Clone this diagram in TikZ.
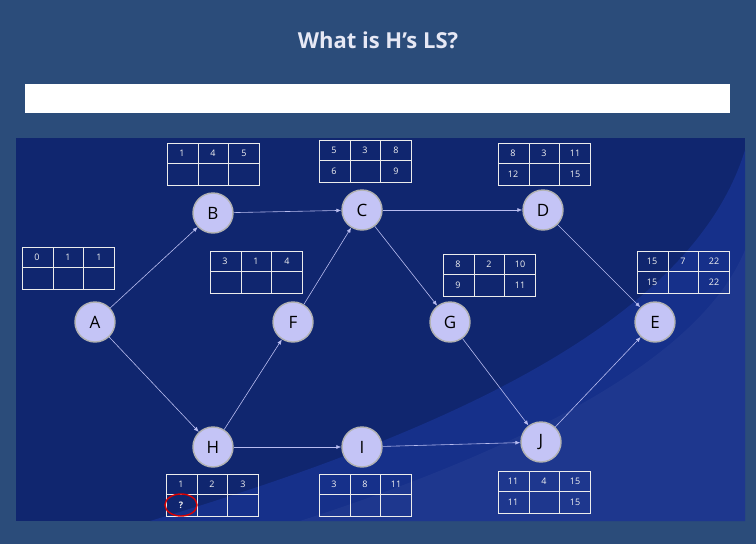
\documentclass[tikz,border=0pt]{standalone}
\usepackage{fontspec}
\setmainfont{Open Sans}
\usetikzlibrary{arrows.meta}
\definecolor{outer}{HTML}{2B4C7A}
\definecolor{panel}{HTML}{10266F}
\definecolor{swoop}{HTML}{16308A}
\definecolor{nodefill}{HTML}{C4C4F6}
\definecolor{edgec}{HTML}{B8BCF0}
\definecolor{titlec}{HTML}{E6E8F5}
\tikzset{
  ev/.style={circle,draw=gray!60,line width=1.4pt,fill=nodefill,minimum size=40pt,inner sep=0pt,font=\fontsize{17}{17}\selectfont},
  arr/.style={draw=edgec,line width=0.6pt,-{Latex[length=5pt,width=4pt]}},
  cell/.style={draw=white!85!gray,line width=0.8pt},
  num/.style={text=white!90!gray,font=\fontsize{9}{9}\selectfont}
}
\newcommand{\tbl}[9]{% x y a b c d e f name
  \draw[cell] (#1,#2) rectangle ++(92,42);
  \draw[cell] (#1,#2+20) -- ++(92,0);
  \draw[cell] (#1+31,#2) -- ++(0,42);
  \draw[cell] (#1+61,#2) -- ++(0,42);
  \node[num] (#9a) at (#1+15,#2+10) {#3};
  \node[num] (#9b) at (#1+46,#2+10) {#4};
  \node[num] (#9c) at (#1+77,#2+10) {#5};
  \node[num] (#9d) at (#1+15,#2+31) {#6};
  \node[num] (#9e) at (#1+46,#2+31) {#7};
  \node[num] (#9f) at (#1+77,#2+31) {#8};
}
\begin{document}
\begin{tikzpicture}[x=1pt,y=-1pt]
\fill[outer] (0,0) rectangle (756,544);
\useasboundingbox (0,0) rectangle (756,544);
\node[text=titlec,font=\bfseries\fontsize{22}{22}\selectfont] (title) at (378,40) {What is H’s LS?};
\fill[white] (25,84) rectangle (730,113);
\fill[panel] (16,138) rectangle (745,521);
\fill[swoop] (150,521) .. controls (420,440) and (690,330) .. (745,150) -- (745,521) -- cycle;
\fill[swoop!85!white,opacity=0.25] (300,521) .. controls (520,450) and (700,360) .. (745,250) -- (745,521) -- cycle;
\node[ev] (A) at (95,322) {A};
\node[ev] (B) at (213,213) {B};
\node[ev] (C) at (362,210) {C};
\node[ev] (D) at (543,210) {D};
\node[ev] (E) at (655,322) {E};
\node[ev] (F) at (293,322) {F};
\node[ev] (G) at (450,322) {G};
\node[ev] (H) at (213,447) {H};
\node[ev] (I) at (362,447) {I};
\node[ev] (J) at (541,442) {J};
\draw[arr] (A) -- (B);
\draw[arr] (A) -- (H);
\draw[arr] (B) -- (C);
\draw[arr] (C) -- (D);
\draw[arr] (C) -- (G);
\draw[arr] (D) -- (E);
\draw[arr] (F) -- (C);
\draw[arr] (H) -- (F);
\draw[arr] (H) -- (I);
\draw[arr] (I) -- (J);
\draw[arr] (G) -- (J);
\draw[arr] (J) -- (E);
\tbl{22}{247}{0}{1}{1}{}{}{}{tA}
\tbl{167}{143}{1}{4}{5}{}{}{}{tB}
\tbl{319}{140}{5}{3}{8}{6}{}{9}{tC}
\tbl{498}{143}{8}{3}{11}{12}{}{15}{tD}
\tbl{210}{251}{3}{1}{4}{}{}{}{tF}
\tbl{443}{254}{8}{2}{10}{9}{}{11}{tG}
\tbl{637}{251}{15}{7}{22}{15}{}{22}{tE}
\tbl{166}{474}{1}{2}{3}{\textbf{?}}{}{}{tH}
\tbl{319}{474}{3}{8}{11}{}{}{}{tI}
\tbl{498}{471}{11}{4}{15}{11}{}{15}{tJ}
\draw[red!85!black,line width=1.4pt] (tHd) ellipse (16 and 11);
\end{tikzpicture}
\end{document}
